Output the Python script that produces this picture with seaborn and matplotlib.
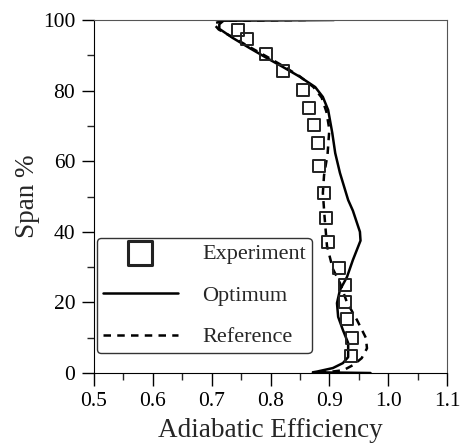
import pandas as pd
import matplotlib
matplotlib.use('Agg')
import matplotlib.pyplot as plt
import seaborn as sns

# Experiment points (adiabatic efficiency vs span %)
exp_eff = [0.745, 0.760, 0.793, 0.821, 0.855, 0.866, 0.874, 0.881, 0.883, 0.891,
           0.895, 0.898, 0.917, 0.927, 0.927, 0.930, 0.939, 0.937]
exp_span = [97.2, 94.6, 90.4, 85.6, 80.2, 75.1, 70.3, 65.2, 58.6, 51.0,
            43.9, 37.1, 29.7, 24.9, 20.1, 15.3, 9.9, 4.8]

# Optimum curve
opt_eff = [0.908, 0.72, 0.713, 0.713, 0.736, 0.765, 0.794, 0.821, 0.850, 0.876,
           0.889, 0.898, 0.905, 0.910, 0.918, 0.932, 0.940, 0.952, 0.953, 0.940,
           0.930, 0.918, 0.913, 0.915, 0.923, 0.932, 0.932, 0.923, 0.906, 0.879,
           0.872, 0.970]
opt_span = [100.0, 99.8, 98.8, 97.5, 94.9, 92.0, 89.2, 86.7, 83.9, 81.0,
            78.2, 74.5, 68.0, 62.3, 56.7, 49.0, 46.0, 40.0, 37.5, 32.0,
            27.2, 23.5, 19.8, 15.9, 12.2, 8.5, 4.5, 2.8, 1.4, 0.4,
            0.2, 0.0]

# Reference curve
ref_eff = [0.86, 0.72, 0.703, 0.712, 0.735, 0.765, 0.795, 0.822, 0.850, 0.873,
           0.887, 0.895, 0.900, 0.897, 0.891, 0.889, 0.892, 0.896, 0.906, 0.918,
           0.930, 0.947, 0.962, 0.964, 0.955, 0.941, 0.924, 0.90, 0.875]
ref_span = [100.0, 99.8, 99.0, 97.3, 95.2, 92.3, 89.5, 86.9, 84.0, 81.0,
            78.0, 74.0, 69.0, 62.0, 56.0, 51.0, 44.0, 36.0, 29.5, 25.5,
            20.0, 15.0, 10.0, 7.0, 4.2, 2.3, 0.8, 0.3, 0.0]

exp_df = pd.DataFrame({'eff': exp_eff, 'span': exp_span})
opt_df = pd.DataFrame({'eff': opt_eff, 'span': opt_span})
ref_df = pd.DataFrame({'eff': ref_eff, 'span': ref_span})

sns.set_style('ticks')
plt.rcParams['font.family'] = ['Liberation Serif', 'DejaVu Serif']

fig = plt.figure(figsize=(4.65, 4.46), dpi=100)
ax = fig.add_axes([94 / 465, 1 - 373 / 446, 353 / 465, 353 / 446])

sns.scatterplot(data=exp_df, x='eff', y='span', marker='s', s=75,
                facecolor='none', edgecolor='#222222', linewidth=1.4,
                label='Experiment', ax=ax, zorder=3)
sns.lineplot(data=opt_df, x='eff', y='span', sort=False, estimator=None,
             color='black', linewidth=1.8, label='Optimum', ax=ax)
sns.lineplot(data=ref_df, x='eff', y='span', sort=False, estimator=None,
             color='black', linewidth=1.8, linestyle=(0, (3, 2.5)),
             label='Reference', ax=ax)

ax.set_xlim(0.5, 1.1)
ax.set_ylim(0, 100)
ax.set_xticks([0.5, 0.6, 0.7, 0.8, 0.9, 1.0, 1.1])
ax.set_xticklabels(['0.5', '0.6', '0.7', '0.8', '0.9', '1.0', '1.1'])
ax.set_xticks([0.55, 0.65, 0.75, 0.85, 0.95, 1.05], minor=True)
ax.set_yticks([0, 20, 40, 60, 80, 100])
ax.set_yticks([10, 30, 50, 70, 90], minor=True)
ax.tick_params(which='major', length=9, width=1, labelsize=15.5, colors='black', pad=4.5)
ax.tick_params(which='minor', length=5, width=1)
for side in ['left', 'bottom']:
    ax.spines[side].set_color('black')
for side in ['top', 'right']:
    ax.spines[side].set_color('#555555')
ax.set_xlabel('Adiabatic Efficiency', fontsize=19.5, labelpad=5)
ax.set_ylabel('Span %', fontsize=19.5, labelpad=2)

leg = ax.legend(loc='lower left', bbox_to_anchor=(3 / 353, 20 / 353), borderaxespad=0,
                fontsize=16, frameon=True, fancybox=True, edgecolor='#333333',
                handlelength=3.4, handletextpad=1.1, labelspacing=0.95,
                markerscale=2.0, borderpad=0.25)
leg.get_frame().set_linewidth(1.0)
leg.get_frame().set_alpha(1)
leg.legend_handles[0].set_linewidth(2.2)

fig.savefig('out.png', dpi=100)
